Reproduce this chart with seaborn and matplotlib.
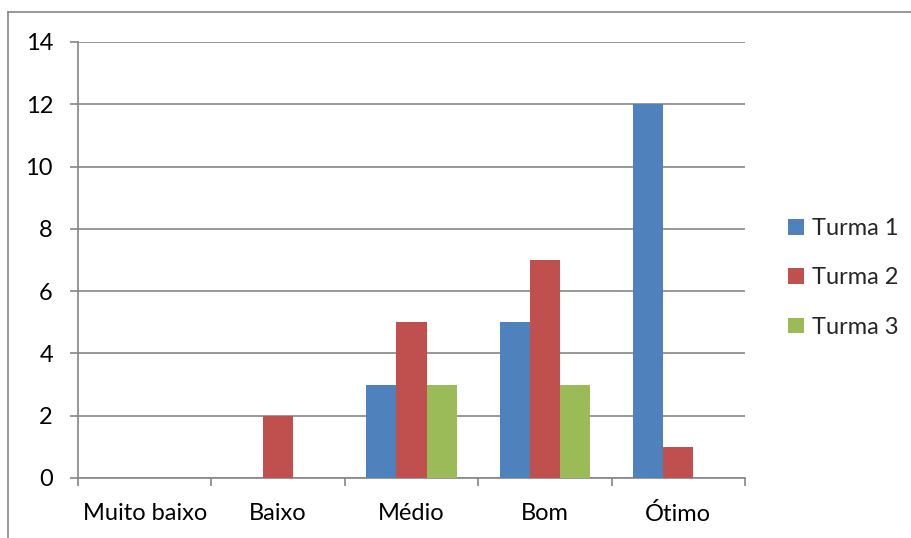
import matplotlib
matplotlib.use("Agg")
import matplotlib.pyplot as plt
from matplotlib.lines import Line2D
import numpy as np
import pandas as pd
import seaborn as sns

categories = ["Muito baixo", "Baixo", "Médio", "Bom", "Ótimo"]
series = ["Turma 1", "Turma 2", "Turma 3"]
turma1 = [0, 0, 3, 5, 12]
turma2 = [0, 2, 5, 7, 1]
turma3 = [0, 0, 3, 3, 0]
colors = ["#4F81BD", "#C0504D", "#9BBB59"]
yticks = [0, 2, 4, 6, 8, 10, 12, 14]

df = pd.DataFrame({
    "categoria": categories * 3,
    "turma": np.repeat(series, len(categories)),
    "valor": turma1 + turma2 + turma3,
})

sns.set_style("white")
plt.rcParams["font.family"] = ["Lato", "DejaVu Sans"]
GRAY = "#868686"
FS = 17

fig = plt.figure(figsize=(9.12, 5.38), dpi=100)
ax = fig.add_axes([78 / 912, 1 - 478 / 538, (745 - 78) / 912, (478 - 42) / 538])

sns.barplot(data=df, x="categoria", y="valor", hue="turma",
            order=categories, hue_order=series, palette=colors,
            width=0.675, saturation=1, errorbar=None, linewidth=0,
            ax=ax, zorder=3)

ax.set_xlim(-0.5, 4.5)
ax.set_ylim(0, 14)
ax.set_yticks(yticks)
ax.set_yticklabels([str(v) for v in yticks], fontsize=FS, color="black")
ax.yaxis.grid(True, color=GRAY, linewidth=1.2, zorder=0)
ax.set_axisbelow(True)

ax.set_xticks(range(len(categories)))
ax.set_xticklabels(categories, fontsize=FS, color="black")
ax.set_xticks(np.arange(-0.5, 5, 1), minor=True)
ax.tick_params(axis="x", which="major", length=0, pad=18)
ax.tick_params(axis="x", which="minor", length=6, width=1.2, color=GRAY, direction="out")
ax.tick_params(axis="y", which="major", length=6, width=1.2, color=GRAY, direction="out", pad=12)
ax.tick_params(left=True, bottom=True, which="both")

for s in ["top", "right"]:
    ax.spines[s].set_visible(False)
for s in ["left", "bottom"]:
    ax.spines[s].set_color(GRAY)
    ax.spines[s].set_linewidth(1.2)
ax.set_xlabel("")
ax.set_ylabel("")

handles, labels = ax.get_legend_handles_labels()
ax.legend(handles, labels, loc="center left", bbox_to_anchor=(767 / 912, 1 - 278 / 538),
          bbox_transform=fig.transFigure, frameon=False, fontsize=FS,
          handlelength=0.65, handleheight=0.65, handletextpad=0.35, labelspacing=1.2)

# outer chart border (left and top edges visible)
fig.add_artist(Line2D([8 / 912, 8 / 912], [0, 1 - 12 / 538], transform=fig.transFigure,
                      color=GRAY, linewidth=1.2))
fig.add_artist(Line2D([8 / 912, 1], [1 - 12 / 538, 1 - 12 / 538], transform=fig.transFigure,
                      color=GRAY, linewidth=1.2))

fig.savefig("out.png", dpi=100)
